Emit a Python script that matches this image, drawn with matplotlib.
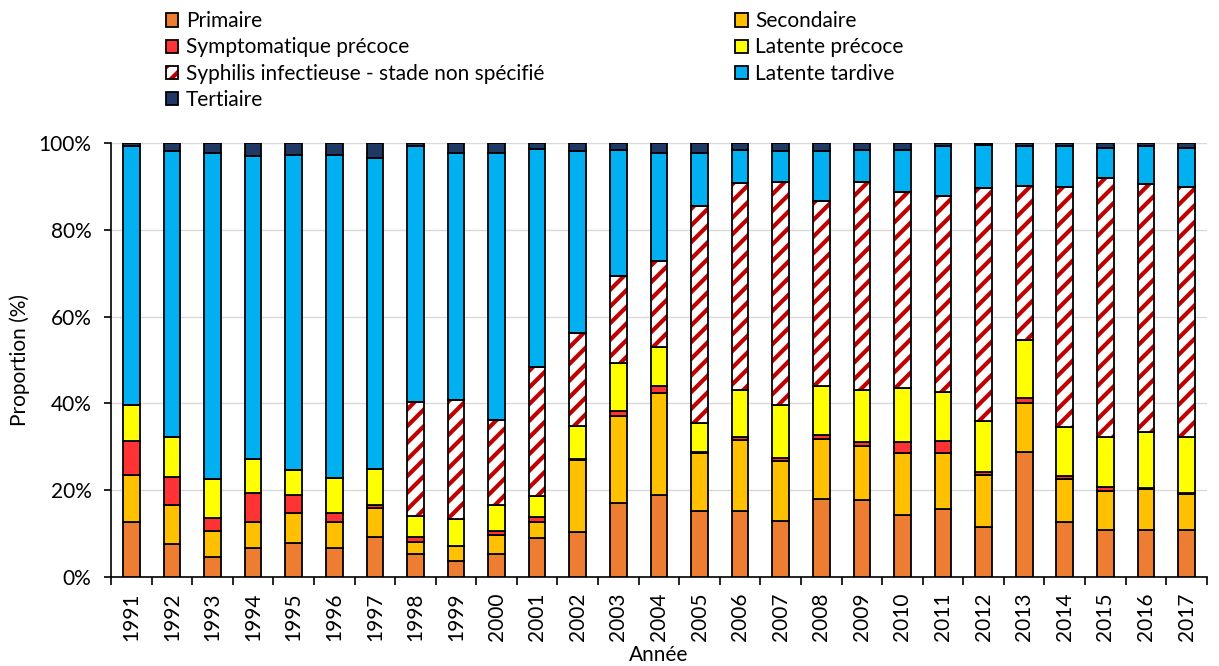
import numpy as np
import matplotlib.pyplot as plt
from matplotlib.patches import Patch
from matplotlib.legend_handler import HandlerTuple
from matplotlib.ticker import PercentFormatter, FixedLocator

plt.rcParams['font.family'] = ['Lato', 'DejaVu Sans']
plt.rcParams['hatch.linewidth'] = 3.0

years = [str(y) for y in range(1991, 2018)]

primaire = [12.7, 7.7, 4.5, 6.8, 7.9, 6.6, 9.3, 5.3, 3.7, 5.3, 9.1, 10.4, 17.1, 19.0,
            15.1, 15.3, 13.0, 18.0, 17.7, 14.4, 15.7, 11.6, 28.9, 12.7, 10.8, 10.8, 10.8]
secondaire = [10.8, 9.0, 6.1, 5.9, 6.9, 6.1, 6.7, 2.7, 3.5, 4.4, 3.6, 16.6, 20.0, 23.5,
              13.4, 16.3, 13.7, 13.8, 12.5, 14.2, 12.9, 11.9, 11.1, 9.8, 9.0, 9.5, 8.3]
symptomatique = [7.8, 6.3, 2.9, 6.6, 4.2, 2.1, 0.6, 1.3, 0.0, 0.9, 1.2, 0.3, 1.2, 1.4,
                 0.4, 0.7, 0.8, 0.9, 0.8, 2.4, 2.8, 0.8, 1.3, 0.8, 0.9, 0.2, 0.3]
latente_precoce = [8.3, 9.3, 9.1, 8.0, 5.7, 8.1, 8.2, 4.8, 6.1, 6.0, 4.8, 7.5, 10.9, 9.2,
                   6.5, 10.8, 12.1, 11.4, 12.1, 12.5, 11.3, 11.6, 13.2, 11.2, 11.5, 13.0, 12.8]
non_specifie = [0, 0, 0, 0, 0, 0, 0, 26.3, 27.5, 19.6, 29.8, 21.5, 20.2, 19.6,
                50.1, 47.6, 51.5, 42.6, 48.0, 45.3, 45.1, 53.7, 35.6, 55.4, 59.7, 57.1, 57.6]
latente_tardive = [59.8, 65.9, 75.0, 69.6, 72.5, 74.3, 71.7, 58.8, 56.8, 61.6, 50.1, 41.9, 29.1, 24.9,
                   12.3, 7.7, 7.1, 11.4, 7.3, 9.6, 11.4, 9.9, 9.1, 9.3, 7.0, 8.6, 9.0]
tertiaire = [0.6, 1.8, 2.4, 3.1, 2.8, 2.8, 3.5, 0.8, 2.4, 2.2, 1.4, 1.8, 1.5, 2.4,
             2.2, 1.6, 1.8, 1.9, 1.6, 1.6, 0.8, 0.5, 0.8, 0.8, 1.1, 0.8, 1.2]

series = [
    ('Primaire', primaire, '#ED7D31'),
    ('Secondaire', secondaire, '#FFC000'),
    ('Symptomatique précoce', symptomatique, '#FF3333'),
    ('Latente précoce', latente_precoce, '#FFFF00'),
    ('Syphilis infectieuse - stade non spécifié', non_specifie, None),
    ('Latente tardive', latente_tardive, '#00B0F0'),
    ('Tertiaire', tertiaire, '#203864'),
]

fig = plt.figure(figsize=(12.19, 6.66), dpi=100)
ax = fig.add_axes([0.0911, 0.1336, 0.8989, 0.6517])

x = np.arange(len(years))
width = 0.41
bottom = np.zeros(len(years))
handles = {}
for name, vals, color in series:
    vals = np.array(vals, dtype=float)
    if color is None:
        ax.bar(x, vals, width, bottom=bottom, facecolor='white', edgecolor='#C00000',
               hatch='//', linewidth=0, zorder=3)
        ax.bar(x, vals, width, bottom=bottom, fill=False, edgecolor='black',
               linewidth=1.3, zorder=4)
        handles[name] = (Patch(facecolor='white', edgecolor='#C00000', hatch='//', linewidth=0),
                         Patch(fill=False, edgecolor='black', linewidth=1.3))
    else:
        ax.bar(x, vals, width, bottom=bottom, color=color, edgecolor='black',
               linewidth=1.3, zorder=3)
        handles[name] = Patch(facecolor=color, edgecolor='black', linewidth=1.3)
    bottom += vals

ax.set_ylim(0, 100)
ax.set_xlim(-0.5, len(years) - 0.5)
ax.yaxis.set_major_locator(FixedLocator([0, 20, 40, 60, 80, 100]))
ax.yaxis.set_major_formatter(PercentFormatter(decimals=0))
ax.grid(axis='y', color='#D9D9D9', linewidth=1, zorder=0)
ax.set_axisbelow(True)

ax.set_xticks(x)
ax.set_xticklabels(years, rotation=90, fontsize=15)
ax.tick_params(axis='x', which='major', length=0, pad=11)
ax.set_xticks(np.arange(-0.5, len(years)), minor=True)
ax.tick_params(axis='x', which='minor', length=6, width=1.2, direction='out')
ax.tick_params(axis='y', labelsize=15, length=5, width=1.2, direction='out', pad=9)

for s in ['top', 'right']:
    ax.spines[s].set_visible(False)
for s in ['left', 'bottom']:
    ax.spines[s].set_linewidth(1.2)

ax.set_ylabel('Proportion (%)', fontsize=15, labelpad=6)
ax.set_xlabel('Année', fontsize=15, labelpad=3)

left_names = ['Primaire', 'Symptomatique précoce',
              'Syphilis infectieuse - stade non spécifié', 'Tertiaire']
right_names = ['Secondaire', 'Latente précoce', 'Latente tardive']
hmap = {tuple: HandlerTuple(ndivide=1)}
for names, xpos in [(left_names, 0.131), (right_names, 0.598)]:
    fig.legend([handles[n] for n in names], names, loc='upper left',
               bbox_to_anchor=(xpos, 0.9925), frameon=False, fontsize=15,
               handlelength=0.6, handleheight=0.6, handletextpad=0.35,
               labelspacing=0.3, borderaxespad=0.0, borderpad=0.3, handler_map=hmap)

fig.savefig('out.png', dpi=100)
